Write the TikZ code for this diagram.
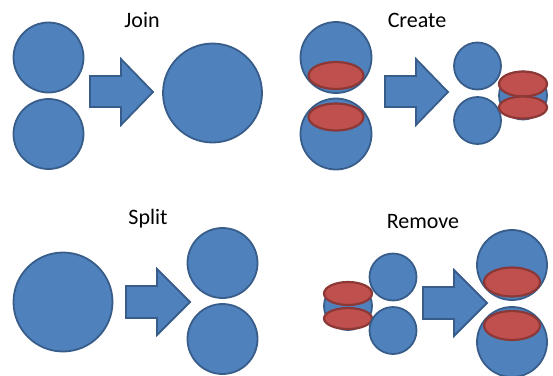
\documentclass[tikz,border=0pt]{standalone}
\usepackage{fontspec}
\setmainfont{Carlito}
\usetikzlibrary{shapes.geometric}
\definecolor{bfill}{HTML}{4F81BD}
\definecolor{bline}{HTML}{385D8A}
\definecolor{rfill}{HTML}{C0504D}
\definecolor{rline}{HTML}{8C3836}
\tikzset{
  ball/.style={circle, draw=bline, fill=bfill, line width=1.8pt, inner sep=0pt, minimum size=#1},
  disc/.style={ellipse, draw=rline, fill=rfill, line width=2.2pt, inner sep=0pt, minimum width=#1, minimum height=27pt},
  fatarrow/.style={draw=bline, fill=bfill, line width=1.8pt, line join=miter},
  title/.style={font=\fontsize{22}{26}\selectfont, text=black, inner sep=0pt}
}
\begin{document}
\begin{tikzpicture}[x=1pt,y=-1pt]
\useasboundingbox (0,0) rectangle (553,375);
% ---------- Join ----------
\node[title] (tjoin) at (142,20) {Join};
\node[ball=70pt] (j1) at (48.5,57.5) {};
\node[ball=70pt] (j2) at (48.5,134) {};
\draw[fatarrow] (90,76) -- (121,76) -- (121,59) -- (153,92) -- (121,125) -- (121,107) -- (90,107) -- cycle;
\node[ball=99pt] (j3) at (212.5,93) {};
% ---------- Create ----------
\node[title] (tcreate) at (417,20) {Create};
\node[ball=71pt] (c1) at (336,57.5) {};
\node[disc=55pt] (c1r) at (336,75.5) {};
\node[ball=71pt] (c2) at (336,134) {};
\node[disc=55pt] (c2r) at (336,117) {};
\draw[fatarrow] (385,76) -- (416,76) -- (416,59) -- (448,92) -- (416,125) -- (416,107) -- (385,107) -- cycle;
\node[ball=47pt] (c3) at (477.5,66) {};
\node[ball=47pt] (c4) at (477.5,120.5) {};
\node[ball=48pt] (c5) at (523,95.5) {};
\node[disc=48pt, minimum height=25pt] (c5a) at (523,84) {};
\node[disc=48pt, minimum height=22pt] (c5b) at (523,107.5) {};
% ---------- Split ----------
\node[title] (tsplit) at (148,219) {Split};
\node[ball=99pt] (s1) at (63,302) {};
\draw[fatarrow] (126,286) -- (157,286) -- (157,269) -- (190,302) -- (157,335) -- (157,318) -- (126,318) -- cycle;
\node[ball=70pt] (s2) at (222.5,263) {};
\node[ball=70pt] (s3) at (222.5,339) {};
% ---------- Remove ----------
\node[title] (tremove) at (423,222) {Remove};
\node[ball=48pt] (r0) at (348,306) {};
\node[disc=48pt, minimum height=23pt] (r0a) at (348,293.5) {};
\node[disc=48pt, minimum height=21pt] (r0b) at (348,318.5) {};
\node[ball=47pt] (r1) at (393,277) {};
\node[ball=47pt] (r2) at (393,330.5) {};
\draw[fatarrow] (423,287) -- (454,287) -- (454,270) -- (487,303) -- (454,336) -- (454,319) -- (423,319) -- cycle;
\node[ball=70pt] (r3) at (512,265) {};
\node[disc=56pt, minimum height=29pt] (r3r) at (512,282) {};
\node[ball=70pt] (r4) at (512,342) {};
\node[disc=56pt, minimum height=29pt] (r4r) at (512,325.5) {};
\end{tikzpicture}
\end{document}
